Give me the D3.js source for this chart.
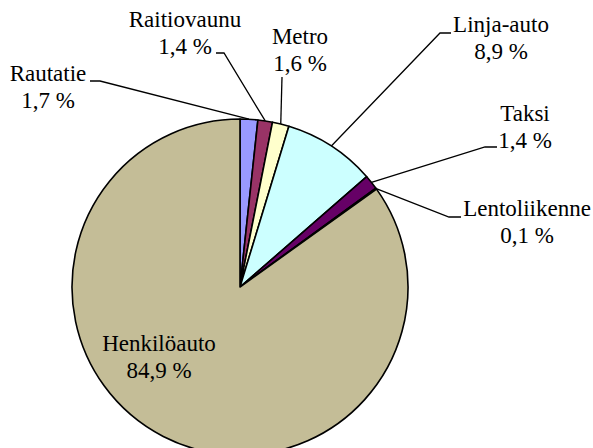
<!DOCTYPE html>
<html>
<head>
<meta charset="utf-8">
<script src="https://cdn.jsdelivr.net/npm/d3@7"></script>
<style>
  html, body { margin: 0; padding: 0; background: #fff; }
  #chart { position: relative; width: 593px; height: 448px; overflow: hidden; }
  #chart svg { position: absolute; left: 0; top: 0; display: block; }
  .lbl {
    position: absolute;
    font-family: "Liberation Serif", "Times New Roman", serif;
    font-size: 23px;
    line-height: 26.5px;
    color: #000;
    white-space: nowrap;
    text-align: center;
    transform: translateX(-50%);
  }
</style>
</head>
<body>
<div id="chart"></div>
<script>
const categories = ["Rautatie", "Raitiovaunu", "Metro", "Linja-auto", "Taksi", "Lentoliikenne", "Henkilöauto"];
const shares = [1.7, 1.4, 1.6, 8.9, 1.4, 0.1, 84.9];
const valueLabels = ["1,7 %", "1,4 %", "1,6 %", "8,9 %", "1,4 %", "0,1 %", "84,9 %"];
const sliceColors = ["#9999FF", "#993366", "#FFFFCC", "#CCFFFF", "#660066", "#FF8080", "#C4BD97"];

// label placement (centre x, first baseline) and leader start / elbow
const labelLayout = [
  { x: 48,  y: 82,  start: [90, 81],   elbow: [100, 81] },
  { x: 185, y: 28,  start: [216, 53],  elbow: [224, 53] },
  { x: 300, y: 45,  start: [282, 77],  elbow: null },
  { x: 501, y: 33,  start: [451, 33],  elbow: [440, 33] },
  { x: 525, y: 122, start: [497, 147], elbow: [485, 147] },
  { x: 527, y: 217, start: [461, 217], elbow: [449, 217] },
  { x: 159, y: 352, start: null,       elbow: null }
];

const width = 593, height = 448;
const cx = 240, cy = 287, radius = 168;
const baselineOffset = 21; // distance from top of a 26.5px line box to the baseline

const data = categories.map((c, i) => ({ name: c, value: shares[i], label: valueLabels[i], color: sliceColors[i], pos: labelLayout[i] }));

const chart = d3.select('#chart');

const svg = chart
  .append('svg')
  .attr('width', width)
  .attr('height', height);

const pie = d3.pie()
  .sort(null)
  .value(d => d.value);

const arc = d3.arc().innerRadius(0).outerRadius(radius);
const edgeArc = d3.arc().innerRadius(radius).outerRadius(radius);

const arcs = pie(data);

const g = svg.append('g').attr('transform', `translate(${cx},${cy})`);

g.selectAll('path')
  .data(arcs)
  .join('path')
  .attr('d', arc)
  .attr('fill', d => d.data.color)
  .attr('stroke', '#000')
  .attr('stroke-width', 1.6)
  .attr('stroke-linejoin', 'round');

// leader lines
svg.selectAll('path.leader')
  .data(arcs.filter(d => d.data.pos.start))
  .join('path')
  .attr('class', 'leader')
  .attr('fill', 'none')
  .attr('stroke', '#000')
  .attr('stroke-width', 1.3)
  .attr('d', d => {
    const c = edgeArc.centroid(d);
    const pts = [d.data.pos.start];
    if (d.data.pos.elbow) pts.push(d.data.pos.elbow);
    pts.push([cx + c[0], cy + c[1]]);
    return d3.line()(pts);
  });

// labels as html blocks over the svg (two lines each)
const lbl = chart.selectAll('div.lbl')
  .data(arcs)
  .join('div')
  .attr('class', 'lbl')
  .style('left', d => d.data.pos.x + 'px')
  .style('top', d => (d.data.pos.y - baselineOffset) + 'px');

lbl.append('div').text(d => d.data.name);
lbl.append('div').text(d => d.data.label);
</script>
</body>
</html>
